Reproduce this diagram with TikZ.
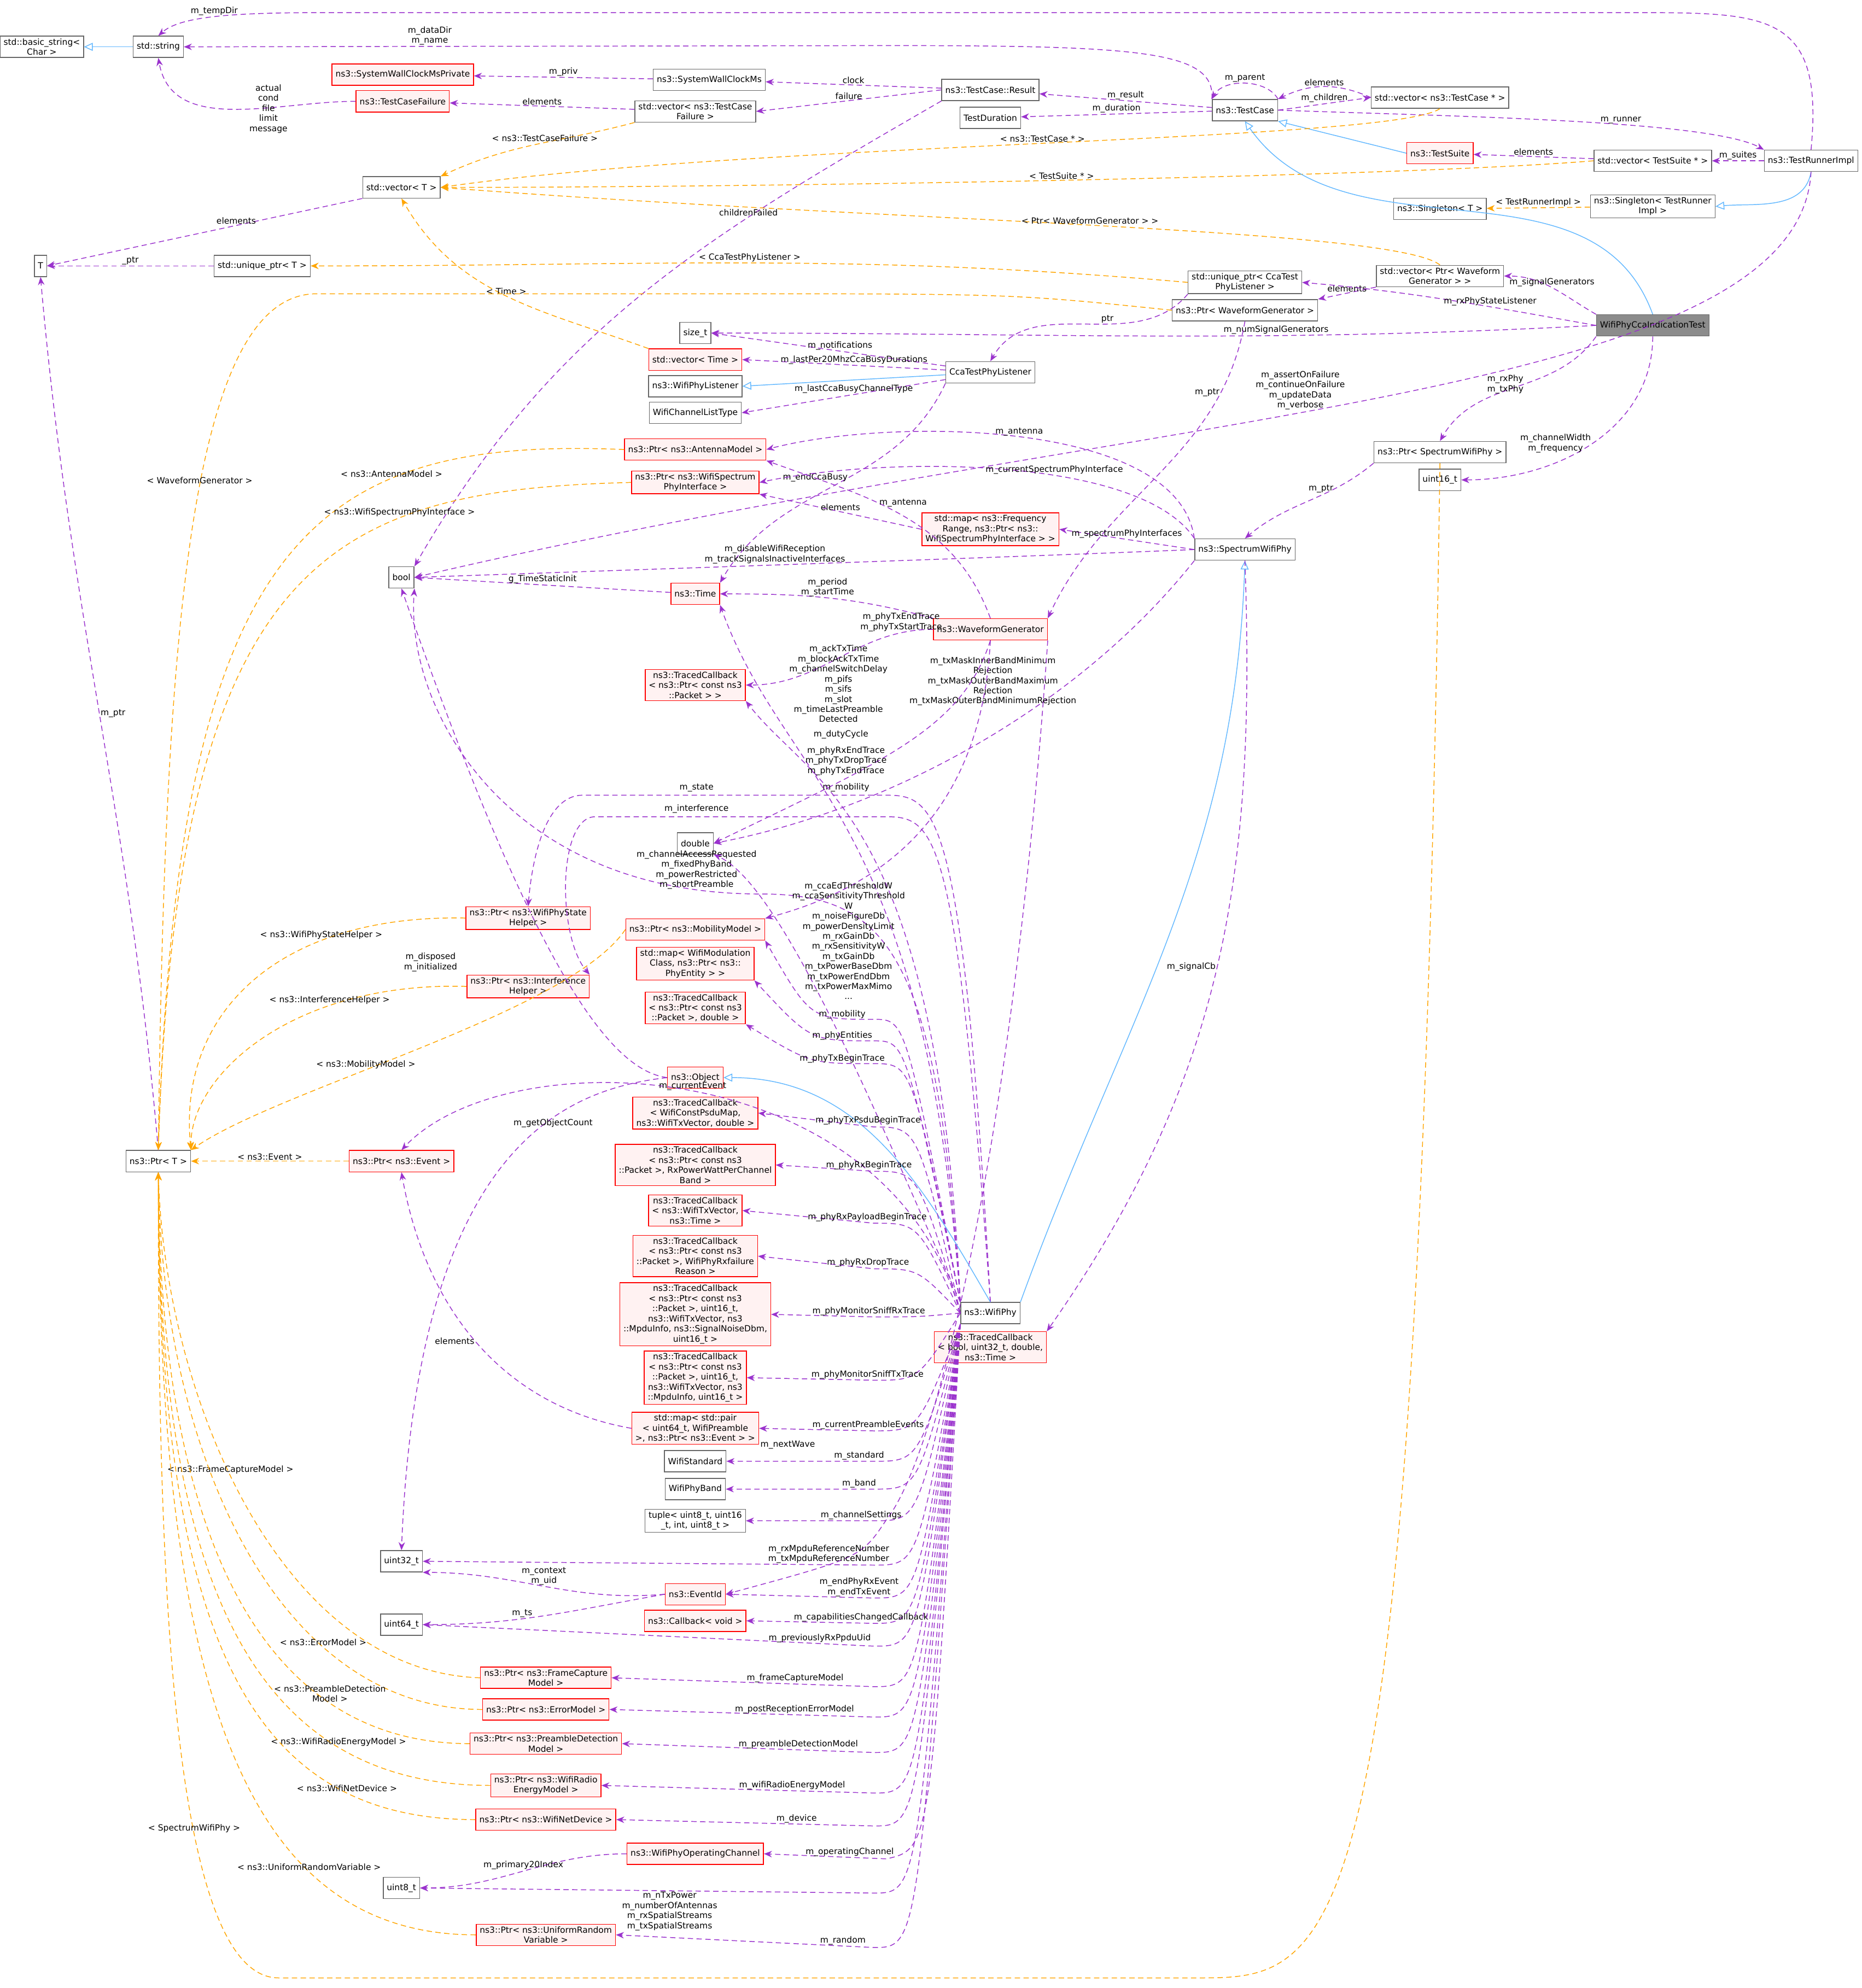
\documentclass[tikz,border=0pt]{standalone}
\usepackage{fontspec}
\setmainfont{DejaVu Sans}
\usetikzlibrary{arrows.meta}
\definecolor{usecol}{HTML}{9A32CD}
\definecolor{tplcol}{HTML}{FFA500}
\definecolor{inhcol}{HTML}{63B8FF}

\begin{document}
\begin{tikzpicture}
      [x=0.016667cm, y=-0.016667cm, line width=0.3pt,
       cls/.style={
           draw=black!60, fill=white,
           font=\fontsize{3.17}{3.77}\selectfont,
           align=center, inner xsep=1.33pt, inner ysep=0.83pt,
           minimum height=8pt
         },
       redcls/.style={cls, draw=red, fill=red!5},
       hlcls/.style={cls, fill=black!45},
       uses/.style={draw=usecol, dashed, dash pattern=on 2pt off 1.3pt, -{Stealth[length=3pt,width=2.4pt]}},
       tmpl/.style={draw=tplcol, dashed, dash pattern=on 2pt off 1.3pt, -{Stealth[length=3pt,width=2.4pt]}},
       inherit/.style={draw=inhcol, -{Triangle[open,length=3.3pt,width=3pt]}},
       lbl/.style={font=\fontsize{3.17}{3.77}\selectfont, align=center, inner sep=0.33pt},
       ]
    \useasboundingbox (0,0) rectangle (1470,1570);

    \node [cls] (bstr) at (33,37) {std::basic\_string<\\Char >};
    \node [cls] (str) at (125,37) {std::string};
    \node [cls] (T) at (32,210) {T};
    \node [cls] (uptr) at (207,210) {std::unique\_ptr< T >};
    \node [cls] (vecT) at (317,148) {std::vector< T >};
    \node [redcls] (swcp) at (318,59) {ns3::SystemWallClockMsPrivate};
    \node [redcls] (tcf) at (318,80) {ns3::TestCaseFailure};
    \node [cls] (swc) at (560,63) {ns3::SystemWallClockMs};
    \node [cls] (vtcf) at (549,88) {std::vector< ns3::TestCase\\Failure >};
    \node [cls] (res) at (782,71) {ns3::TestCase::Result};
    \node [cls] (tdur) at (782,93) {TestDuration};
    \node [cls] (tc) at (983,87) {ns3::TestCase};
    \node [cls] (vtc) at (1137,77) {std::vector< ns3::TestCase * >};
    \node [redcls] (ts) at (1137,121) {ns3::TestSuite};
    \node [cls] (vts) at (1305,127) {std::vector< TestSuite * >};
    \node [cls] (runner) at (1430,127) {ns3::TestRunnerImpl};
    \node [cls] (sngT) at (1137,165) {ns3::Singleton< T >};
    \node [cls] (sngR) at (1305,163) {ns3::Singleton< TestRunner\\Impl >};
    \node [cls] (upcca) at (983,223) {std::unique\_ptr< CcaTest\\PhyListener >};
    \node [cls] (vwg) at (1137,218) {std::vector< Ptr< Waveform\\Generator > >};
    \node [cls] (pwg) at (983,245) {ns3::Ptr< WaveformGenerator >};
    \node [hlcls] (test) at (1305,257) {WifiPhyCcaIndicationTest};
    \node [cls] (sizet) at (549,263) {size\_t};
    \node [redcls] (vtime) at (549,284) {std::vector< Time >};
    \node [cls] (cca) at (782,294) {CcaTestPhyListener};
    \node [cls] (wpl) at (549,305) {ns3::WifiPhyListener};
    \node [cls] (wclt) at (549,326) {WifiChannelListType};
    \node [cls] (pswp) at (1137,357) {ns3::Ptr< SpectrumWifiPhy >};
    \node [cls] (u16) at (1137,379) {uint16\_t};
    \node [redcls] (ant) at (549,355) {ns3::Ptr< ns3::AntennaModel >};
    \node [redcls] (wspi) at (549,381) {ns3::Ptr< ns3::WifiSpectrum\\PhyInterface >};
    \node [redcls] (fmap) at (782,418) {std::map< ns3::Frequency\\Range, ns3::Ptr< ns3::\\WifiSpectrumPhyInterface > >};
    \node [cls] (bool) at (317,456) {bool};
    \node [cls] (swp) at (983,434) {ns3::SpectrumWifiPhy};
    \node [redcls] (time) at (549,469) {ns3::Time};
    \node [redcls] (wg) at (782,497) {ns3::WaveformGenerator};
    \node [redcls] (tcpk) at (549,541) {ns3::TracedCallback\\< ns3::Ptr< const ns3\\::Packet > >};
    \node [cls] (dbl) at (549,666) {double};
    \node [redcls] (psh) at (417,725) {ns3::Ptr< ns3::WifiPhyState\\Helper >};
    \node [redcls] (mob) at (549,734) {ns3::Ptr< ns3::MobilityModel >};
    \node [redcls] (pemap) at (549,761) {std::map< WifiModulation\\Class, ns3::Ptr< ns3::\\PhyEntity > >};
    \node [redcls] (ih) at (417,779) {ns3::Ptr< ns3::Interference\\Helper >};
    \node [redcls] (tcpkd) at (549,796) {ns3::TracedCallback\\< ns3::Ptr< const ns3\\::Packet >, double >};
    \node [redcls] (obj) at (549,851) {ns3::Object};
    \node [cls] (ptrT) at (125,917) {ns3::Ptr< T >};
    \node [redcls] (pev) at (317,917) {ns3::Ptr< ns3::Event >};
    \node [redcls] (tcpsdu) at (549,879) {ns3::TracedCallback\\< WifiConstPsduMap,\\ns3::WifiTxVector, double >};
    \node [redcls] (tcrxp) at (549,920) {ns3::TracedCallback\\< ns3::Ptr< const ns3\\::Packet >, RxPowerWattPerChannel\\Band >};
    \node [redcls] (tctxv) at (549,956) {ns3::TracedCallback\\< ns3::WifiTxVector,\\ns3::Time >};
    \node [redcls] (tcrxf) at (549,992) {ns3::TracedCallback\\< ns3::Ptr< const ns3\\::Packet >, WifiPhyRxfailure\\Reason >};
    \node [redcls] (tcsrx) at (549,1038) {ns3::TracedCallback\\< ns3::Ptr< const ns3\\::Packet >, uint16\_t,\\ns3::WifiTxVector, ns3\\::MpduInfo, ns3::SignalNoiseDbm,\\uint16\_t >};
    \node [redcls] (tcstx) at (549,1088) {ns3::TracedCallback\\< ns3::Ptr< const ns3\\::Packet >, uint16\_t,\\ns3::WifiTxVector, ns3\\::MpduInfo, uint16\_t >};
    \node [cls] (wp) at (782,1037) {ns3::WifiPhy};
    \node [redcls] (tcsig) at (782,1064) {ns3::TracedCallback\\< bool, uint32\_t, double,\\ns3::Time >};
    \node [redcls] (pmap) at (549,1128) {std::map< std::pair\\< uint64\_t, WifiPreamble\\>, ns3::Ptr< ns3::Event > >};
    \node [cls] (wstd) at (549,1154) {WifiStandard};
    \node [cls] (wband) at (549,1176) {WifiPhyBand};
    \node [cls] (tuple) at (549,1201) {tuple< uint8\_t, uint16\\\_t, int, uint8\_t >};
    \node [cls] (u32) at (317,1233) {uint32\_t};
    \node [redcls] (evid) at (549,1259) {ns3::EventId};
    \node [cls] (u64) at (317,1283) {uint64\_t};
    \node [redcls] (cbv) at (549,1280) {ns3::Callback< void >};
    \node [redcls] (fcm) at (431,1325) {ns3::Ptr< ns3::FrameCapture\\Model >};
    \node [redcls] (erm) at (431,1350) {ns3::Ptr< ns3::ErrorModel >};
    \node [redcls] (pdm) at (431,1377) {ns3::Ptr< ns3::PreambleDetection\\Model >};
    \node [redcls] (rem) at (431,1410) {ns3::Ptr< ns3::WifiRadio\\EnergyModel >};
    \node [redcls] (dev) at (431,1437) {ns3::Ptr< ns3::WifiNetDevice >};
    \node [redcls] (opch) at (549,1464) {ns3::WifiPhyOperatingChannel};
    \node [cls] (u8) at (317,1491) {uint8\_t};
    \node [redcls] (urv) at (431,1528) {ns3::Ptr< ns3::UniformRandom\\Variable >};

    % test framework
    \draw [inherit] (str) -- (bstr);
    \draw [uses] (runner.north) .. controls (1440,14) and (1400,10) .. (1300,10) -- (250,10)
      .. controls (170,10) and (140,15) .. (str.north) node [lbl, pos=0.45, above] {m\_tempDir};
    \draw [uses] (tc.north west) .. controls (960,40) and (900,36) .. (700,36) -- node [lbl, pos=0.65, above] {m\_dataDir\\m\_name} (str.east);
    \draw [uses] (tcf.west) to [out=180, in=-80] node [lbl, pos=0.45, right=1.5pt] {actual\\cond\\file\\limit\\message} (str.south);
    \draw [uses] (swc) -- node [lbl, above] {m\_priv} (swcp);
    \draw [uses] (res) -- node [lbl, above] {clock} (swc);
    \draw [uses] (res.west) -- node [lbl, above] {failure} (vtcf.east);
    \draw [uses] (vtcf) -- node [lbl, above] {elements} (tcf);
    \draw [uses] (res.south west) to [out=210, in=60] node [lbl, pos=0.3, above] {childrenFailed} (bool.north east);
    \draw [uses] (tc) -- node [lbl, above] {m\_result} (res);
    \draw [uses] (tc) -- node [lbl, above] {m\_duration} (tdur);
    \draw [uses] (tc.north east) .. controls (1000,62) and (966,62) .. node [lbl, above] {m\_parent} (tc.north west);
    \draw [uses] (vtc.west) to [bend right=25] node [lbl, above] {elements} (tc.north east);
    \draw [uses] (tc.east) -- node [lbl, above] {m\_children} (vtc.west);
    \draw [uses] (tc.east) .. controls (1150,92) and (1350,95) .. node [lbl, pos=0.6, above] {m\_runner} (runner.north west);
    \draw [inherit] (ts.west) -- (tc.south east);
    \draw [uses] (vts) -- node [lbl, above] {elements} (ts);
    \draw [uses] (runner) -- node [lbl, above] {m\_suites} (vts);
    \draw [inherit] (runner.south) to [out=-100, in=5] (sngR.east);
    \draw [tmpl] (sngR) -- node [lbl, above] {< TestRunnerImpl >} (sngT);
    \draw [uses] (vecT.south west) -- node [lbl, above, pos=0.4] {elements} (T.east);
    \draw [uses] (uptr) -- node [lbl, above] {\_ptr} (T);
    \draw [uses] (ptrT.north) to [out=95, in=-85] node [lbl, pos=0.5, right] {m\_ptr} (T.south);
    \draw [tmpl] (vtcf.south west) to [out=-165, in=25] node [lbl, pos=0.45, above] {< ns3::TestCaseFailure >} (vecT.north east);
    \draw [tmpl] (vtc.south) .. controls (1100,112) and (600,112) .. node [lbl, pos=0.5, above] {< ns3::TestCase * >} (vecT.east);
    \draw [tmpl] (vts.west) .. controls (1100,140) and (600,148) .. node [lbl, pos=0.5, above] {< TestSuite * >} (vecT.east);
    \draw [tmpl] (vwg.north) .. controls (1100,180) and (700,175) .. node [lbl, pos=0.5, above] {< Ptr< WaveformGenerator > >} (vecT.east);
    \draw [tmpl] (vtime.north west) to [out=160, in=-60] node [lbl, pos=0.5, above] {< Time >} (vecT.south);
    \draw [tmpl] (upcca.west) to [out=175, in=0] node [lbl, pos=0.5, above] {< CcaTestPhyListener >} (uptr.east);
    \draw [tmpl] (pwg.west) .. controls (800,232) .. (560,232) -- (250,232) .. controls (150,232) and (130,500) .. (ptrT.north) node [lbl, pos=0.45, above] {< WaveformGenerator >};

    % test case members
    \draw [inherit] (test.north) to [out=110, in=-55] (tc.south);
    \draw [uses] (test.north west) to [out=150, in=0] node [lbl, pos=0.5, above] {m\_signalGenerators} (vwg.east);
    \draw [uses] (vwg.south west) -- node [lbl, above] {elements} (pwg.north east);
    \draw [uses] (test.west) to [out=170, in=-5] node [lbl, pos=0.35, above] {m\_rxPhyStateListener} (upcca.east);
    \draw [uses] (upcca.south west) to [out=-130, in=60] node [lbl, pos=0.4, above] {ptr} (cca.north);
    \draw [uses] (test.west) to [out=183, in=0] node [lbl, pos=0.35, above] {m\_numSignalGenerators} (sizet.east);
    \draw [uses] (runner.south) .. controls (1420,318) and (900,322) .. node [lbl, pos=0.55, above=0.7pt] {m\_assertOnFailure\\m\_continueOnFailure\\m\_updateData\\m\_verbose} (bool.east);
    \draw [uses] (test.south west) to [out=-125, in=60] node [lbl, pos=0.45, left] {m\_rxPhy\\m\_txPhy} (pswp.north);
    \draw [uses] (test.south) to [out=-90, in=0] node [lbl, pos=0.5, left] {m\_channelWidth\\m\_frequency} (u16.east);
    \draw [uses] (pwg.south) to [out=-100, in=65] node [lbl, pos=0.2, left] {m\_ptr} (wg.north east);
    \draw [uses] (cca) -- node [lbl, above, pos=0.45] {m\_notifications} (sizet.east);
    \draw [uses] (cca) -- node [lbl, above, pos=0.45] {m\_lastPer20MhzCcaBusyDurations} (vtime.east);
    \draw [inherit] (cca) -- (wpl.east);
    \draw [uses] (cca) -- node [lbl, above, pos=0.45] {m\_lastCcaBusyChannelType} (wclt.east);
    \draw [uses] (cca.south west) to [out=-115, in=60] node [lbl, pos=0.45, left] {m\_endCcaBusy} (time.north east);
    \draw [uses] (pswp.south west) to [out=-140, in=40] node [lbl, pos=0.3, left] {m\_ptr} (swp.north);
    \draw [tmpl] (pswp.south) .. controls (1120,1540) and (1060,1562) .. (950,1562) -- (220,1562)
      .. controls (130,1562) and (125,1200) .. (ptrT.south) node [lbl, pos=0.35, above] {< SpectrumWifiPhy >};

    % spectrum phy and waveform generator
    \draw [uses] (swp.north west) .. controls (930,330) and (700,330) .. node [lbl, pos=0.5, above] {m\_antenna} (ant.east);
    \draw [uses] (swp.north west) .. controls (900,360) and (700,360) .. node [lbl, pos=0.4, above] {m\_currentSpectrumPhyInterface} (wspi.east);
    \draw [uses] (swp.west) -- node [lbl, above] {m\_spectrumPhyInterfaces} (fmap.east);
    \draw [uses] (fmap.west) -- node [lbl, above] {elements} (wspi.south east);
    \draw [uses] (swp.west) .. controls (800,440) and (500,450) .. node [lbl, pos=0.55, above] {m\_disableWifiReception\\m\_trackSignalsInactiveInterfaces} (bool.east);
    \draw [inherit] (wp.north east) to [out=70, in=-92] (swp.south);
    \draw [uses] (swp.south) to [out=-88, in=55] node [lbl, pos=0.5, left] {m\_signalCb} (tcsig.north east);
    \draw [uses] (swp.south west) .. controls (850,560) and (700,640) .. (dbl.east);
    \node [lbl] (lmask) at (784,538) {m\_txMaskInnerBandMinimum\\Rejection\\m\_txMaskOuterBandMaximum\\Rejection\\m\_txMaskOuterBandMinimumRejection};
    \draw [uses] (wg.north) to [out=110, in=-20] node [lbl, pos=0.6, right] {m\_antenna} (ant.south east);
    \draw [uses] (wg.north west) to [out=165, in=0] node [lbl, pos=0.5, above] {m\_period\\m\_startTime} (time.east);
    \draw [uses] (wg.west) to [out=180, in=0] node [lbl, pos=0.15, above] {m\_phyTxEndTrace\\m\_phyTxStartTrace} (tcpk.east);
    \draw [uses] (wg.south) .. controls (760,575) and (700,600) .. (dbl.east);
    \node [lbl] (lduty) at (664,580) {m\_dutyCycle};
    \draw [uses] (wg.south) .. controls (775,640) and (700,700) .. (mob.north east);
    \node [lbl] (lmob) at (668,622) {m\_mobility};
    \draw [uses] (wg.south east) .. controls (800,900) and (740,1150) .. (700,1200) .. controls (680,1230) .. (evid.east);
    \node [lbl] (lwave) at (622,1141) {m\_nextWave};
    \draw [uses] (time) -- node [lbl, above] {g\_TimeStaticInit} (bool.east);

    % wifi phy members
    \draw [uses] (wp.north west) .. controls (730,640) and (620,620) .. (time.south east);
    \node [lbl] (lack) at (662,540) {m\_ackTxTime\\m\_blockAckTxTime\\m\_channelSwitchDelay\\m\_pifs\\m\_sifs\\m\_slot\\m\_timeLastPreamble\\Detected};
    \draw [uses] (wp.north west) .. controls (740,640) and (640,620) .. (tcpk.south east);
    \node [lbl] (lrxend) at (668,601) {m\_phyRxEndTrace\\m\_phyTxDropTrace\\m\_phyTxEndTrace};
    \draw [uses] (wp.north) .. controls (760,640) and (740,628) .. (700,628) -- (460,628) .. controls (430,628) and (420,680) .. (psh.north);
    \node [lbl] (lstate) at (550,622) {m\_state};
    \draw [uses] (wp.north) .. controls (755,660) and (740,645) .. (700,645) -- (470,645) .. controls (440,645) and (440,740) .. (ih.north east);
    \node [lbl] (linter) at (550,639) {m\_interference};
    \draw [uses] (wp.north west) .. controls (740,750) and (700,706) .. (600,706) .. controls (400,706) and (320,560) .. (bool.south east);
    \node [lbl] (lchan) at (550,687) {m\_channelAccessRequested\\m\_fixedPhyBand\\m\_powerRestricted\\m\_shortPreamble};
    \draw [uses] (wp.north west) .. controls (700,900) and (620,700) .. (dbl.south east);
    \node [lbl] (lcca) at (670,743) {m\_ccaEdThresholdW\\m\_ccaSensitivityThreshold\\W\\m\_noiseFigureDb\\m\_powerDensityLimit\\m\_rxGainDb\\m\_rxSensitivityW\\m\_txGainDb\\m\_txPowerBaseDbm\\m\_txPowerEndDbm\\m\_txPowerMaxMimo\\...};
    \draw [uses] (wp.north west) .. controls (715,805) .. (690,805) .. controls (640,805) .. (mob.south east);
    \node [lbl] (lmob2) at (665,801) {m\_mobility};
    \draw [uses] (wp.north west) .. controls (715,822) .. (690,822) .. controls (640,822) .. (pemap.south east);
    \node [lbl] (lpe) at (665,818) {m\_phyEntities};
    \draw [uses] (wp.north west) .. controls (720,840) .. (690,840) .. controls (640,840) .. (tcpkd.south east);
    \node [lbl] (ltxb) at (665,836) {m\_phyTxBeginTrace};
    \draw [inherit] (wp.north) to [out=120, in=0] (obj.east);
    \draw [uses] (wp.west) .. controls (700,830) and (400,820) .. node [lbl, pos=0.5, above] {m\_currentEvent} (pev.north);
    \draw [uses] (wp.west) .. controls (725,890) .. (690,890) -- node [lbl, pos=0.05, above] {m\_phyTxPsduBeginTrace} (tcpsdu.east);
    \draw [uses] (wp.west) .. controls (725,925) .. (690,925) -- node [lbl, pos=0.05, above] {m\_phyRxBeginTrace} (tcrxp.east);
    \draw [uses] (wp.west) .. controls (725,966) .. (690,966) -- node [lbl, pos=0.05, above] {m\_phyRxPayloadBeginTrace} (tctxv.east);
    \draw [uses] (wp.west) .. controls (725,1002) .. (690,1002) -- node [lbl, pos=0.05, above] {m\_phyRxDropTrace} (tcrxf.east);
    \draw [uses] (wp.west) .. controls (725,1040) .. (690,1040) -- node [lbl, pos=0.05, above] {m\_phyMonitorSniffRxTrace} (tcsrx.east);
    \draw [uses] (wp.west) .. controls (725,1090) .. (690,1090) -- node [lbl, pos=0.05, above] {m\_phyMonitorSniffTxTrace} (tcstx.east);
    \draw [uses] (wp.south west) .. controls (725,1130) .. (690,1130) -- node [lbl, pos=0.05, above] {m\_currentPreambleEvents} (pmap.east);
    \draw [uses] (wp.south west) .. controls (725,1154) .. (690,1154) -- node [lbl, pos=0.1, above] {m\_standard} (wstd.east);
    \draw [uses] (wp.south west) .. controls (725,1176) .. (690,1176) -- node [lbl, pos=0.1, above] {m\_band} (wband.east);
    \draw [uses] (wp.south west) .. controls (725,1201) .. (690,1201) -- node [lbl, pos=0.1, above] {m\_channelSettings} (tuple.east);
    \draw [uses] (wp.south west) .. controls (725,1236) .. (690,1236) -- node [lbl, pos=0.1, above] {m\_rxMpduReferenceNumber\\m\_txMpduReferenceNumber} (u32.east);
    \draw [uses] (wp.south west) .. controls (725,1262) .. (690,1262) -- node [lbl, pos=0.1, above] {m\_endPhyRxEvent\\m\_endTxEvent} (evid.east);
    \draw [uses] (wp.south west) .. controls (725,1282) .. (690,1282) -- node [lbl, pos=0.1, above] {m\_capabilitiesChangedCallback} (cbv.east);
    \draw [uses] (wp.south west) .. controls (725,1300) .. (690,1300) -- node [lbl, pos=0.12, above] {m\_previouslyRxPpduUid} (u64.east);
    \draw [uses] (wp.south west) .. controls (725,1332) .. (690,1332) -- node [lbl, pos=0.3, above] {m\_frameCaptureModel} (fcm.east);
    \draw [uses] (wp.south west) .. controls (725,1356) .. (690,1356) -- node [lbl, pos=0.3, above] {m\_postReceptionErrorModel} (erm.east);
    \draw [uses] (wp.south west) .. controls (725,1384) .. (690,1384) -- node [lbl, pos=0.3, above] {m\_preambleDetectionModel} (pdm.east);
    \draw [uses] (wp.south west) .. controls (725,1416) .. (690,1416) -- node [lbl, pos=0.3, above] {m\_wifiRadioEnergyModel} (rem.east);
    \draw [uses] (wp.south west) .. controls (725,1442) .. (690,1442) -- node [lbl, pos=0.3, above] {m\_device} (dev.east);
    \draw [uses] (wp.south west) .. controls (735,1460) .. (700,1468) -- node [lbl, pos=0.3, above] {m\_operatingChannel} (opch.east);
    \draw [uses] (wp.south west) .. controls (725,1495) .. (690,1495) -- node [lbl, pos=0.45, below] {m\_nTxPower\\m\_numberOfAntennas\\m\_rxSpatialStreams\\m\_txSpatialStreams} (u8.east);
    \draw [uses] (wp.south west) .. controls (725,1538) .. (690,1538) -- node [lbl, pos=0.12, above] {m\_random} (urv.east);

    % helpers
    \draw [uses] (obj.west) .. controls (480,845) and (420,760) .. (bool.south);
    \node [lbl] (ldisp) at (340,760) {m\_disposed\\m\_initialized};
    \draw [uses] (obj.west) .. controls (450,860) and (330,900) .. node [lbl, pos=0.35, below] {m\_getObjectCount} (u32.north);
    \draw [uses] (evid.west) to [out=185, in=0] node [lbl, pos=0.5, above] {m\_context\\m\_uid} (u32.south east);
    \draw [uses] (evid.west) to [out=190, in=0] node [lbl, pos=0.6, above] {m\_ts} (u64.east);
    \draw [uses] (pmap.west) to [out=170, in=-80] node [lbl, pos=0.5, left] {elements} (pev.south);
    \draw [uses] (opch.west) to [out=180, in=0] node [lbl, pos=0.5, above] {m\_primary20Index} (u8.east);

    % template instances of Ptr
    \draw [tmpl] (ant.west) .. controls (250,345) and (140,420) .. node [lbl, pos=0.3, above] {< ns3::AntennaModel >} (ptrT.north);
    \draw [tmpl] (wspi.west) .. controls (260,387) and (140,440) .. node [lbl, pos=0.3, above] {< ns3::WifiSpectrumPhyInterface >} (ptrT.north);
    \draw [tmpl] (psh.west) .. controls (220,722) and (140,800) .. node [lbl, pos=0.3, above] {< ns3::WifiPhyStateHelper >} (ptrT.north east);
    \draw [tmpl] (ih.west) .. controls (230,775) and (150,850) .. node [lbl, pos=0.3, above] {< ns3::InterferenceHelper >} (ptrT.north east);
    \draw [tmpl] (mob.west) .. controls (450,800) and (220,860) .. node [lbl, pos=0.6, above] {< ns3::MobilityModel >} (ptrT.north east);
    \draw [tmpl] (pev.west) -- node [lbl, above] {< ns3::Event >} (ptrT.east);
    \draw [tmpl] (fcm.west) .. controls (220,1320) and (130,1100) .. node [lbl, pos=0.55, above] {< ns3::FrameCaptureModel >} (ptrT.south);
    \draw [tmpl] (erm.west) .. controls (220,1350) and (128,1150) .. node [lbl, pos=0.3, above] {< ns3::ErrorModel >} (ptrT.south);
    \draw [tmpl] (pdm.west) .. controls (200,1377) and (126,1200) .. node [lbl, pos=0.25, above] {< ns3::PreambleDetection\\Model >} (ptrT.south);
    \draw [tmpl] (rem.west) .. controls (200,1410) and (125,1250) .. node [lbl, pos=0.25, above] {< ns3::WifiRadioEnergyModel >} (ptrT.south);
    \draw [tmpl] (dev.west) .. controls (200,1437) and (125,1300) .. node [lbl, pos=0.22, above] {< ns3::WifiNetDevice >} (ptrT.south);
    \draw [tmpl] (urv.west) .. controls (200,1528) and (125,1350) .. node [lbl, pos=0.3, above] {< ns3::UniformRandomVariable >} (ptrT.south);

  \end{tikzpicture}
\end{document}
